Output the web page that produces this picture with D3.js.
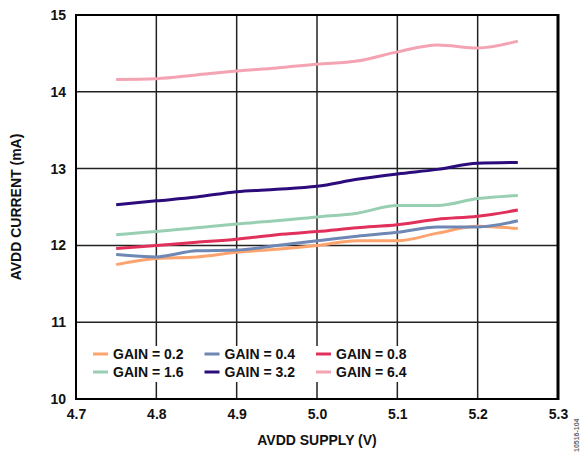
<!DOCTYPE html>
<html>
<head>
<meta charset="utf-8">
<script src="https://cdn.jsdelivr.net/npm/d3@7"></script>
<style>
  body { margin: 0; background: #fff; }
  text { font-family: "Liberation Sans", Arial, sans-serif; font-weight: bold; }
</style>
</head>
<body>
<div id="chart"></div>
<script>
const width = 582;
const height = 454;

// supply voltage (V)
const supply = [4.75, 4.80, 4.85, 4.90, 4.95, 5.00, 5.05, 5.10, 5.15, 5.20, 5.25];

// AVDD current (mA) per gain setting
const gain02 = [11.75, 11.83, 11.85, 11.91, 11.95, 12.00, 12.06, 12.06, 12.16, 12.25, 12.22];
const gain04 = [11.88, 11.85, 11.93, 11.94, 12.00, 12.06, 12.12, 12.17, 12.24, 12.24, 12.32];
const gain08 = [11.96, 12.00, 12.04, 12.08, 12.14, 12.18, 12.23, 12.27, 12.34, 12.38, 12.46];
const gain16 = [12.14, 12.18, 12.23, 12.28, 12.32, 12.37, 12.42, 12.52, 12.52, 12.61, 12.65];
const gain32 = [12.53, 12.58, 12.63, 12.70, 12.73, 12.77, 12.86, 12.93, 12.99, 13.07, 13.08];
const gain64 = [14.16, 14.17, 14.22, 14.27, 14.31, 14.36, 14.40, 14.52, 14.61, 14.57, 14.66];

const seriesNames = ["GAIN = 0.2", "GAIN = 0.4", "GAIN = 0.8", "GAIN = 1.6", "GAIN = 3.2", "GAIN = 6.4"];
const seriesColors = ["#fda46e", "#6e87b4", "#e1305a", "#98cfb2", "#2c0c7c", "#f4a3b2"];
const seriesValues = [gain02, gain04, gain08, gain16, gain32, gain64];

const xTicks = [4.7, 4.8, 4.9, 5.0, 5.1, 5.2, 5.3];
const yTicks = [10, 11, 12, 13, 14, 15];

const margin = {top: 15, right: 24, bottom: 55, left: 76};

const svg = d3.select("#chart").append("svg")
  .attr("width", width)
  .attr("height", height);

const x = d3.scaleLinear()
  .domain([4.7, 5.3])
  .range([margin.left, width - margin.right]);

const y = d3.scaleLinear()
  .domain([10, 15])
  .range([height - margin.bottom, margin.top]);

// grid
svg.append("g")
  .selectAll("line")
  .data(xTicks)
  .join("line")
    .attr("x1", d => x(d)).attr("x2", d => x(d))
    .attr("y1", y(10)).attr("y2", y(15))
    .attr("stroke", "#222")
    .attr("stroke-width", 1.5);

svg.append("g")
  .selectAll("line")
  .data(yTicks)
  .join("line")
    .attr("x1", x(4.7)).attr("x2", x(5.3))
    .attr("y1", d => y(d)).attr("y2", d => y(d))
    .attr("stroke", "#222")
    .attr("stroke-width", 1.5);

// frame
svg.append("rect")
  .attr("x", x(4.7))
  .attr("y", y(15))
  .attr("width", x(5.3) - x(4.7))
  .attr("height", y(10) - y(15))
  .attr("fill", "none")
  .attr("stroke", "#000")
  .attr("stroke-width", 2);

svg.append("line")
  .attr("x1", x(5.3)).attr("x2", x(5.3))
  .attr("y1", y(15) - 1).attr("y2", y(10) + 1)
  .attr("stroke", "#000")
  .attr("stroke-width", 3);

// axes labels
const xAxis = g => g
  .attr("transform", `translate(0,${y(10)})`)
  .call(d3.axisBottom(x).tickValues(xTicks).tickFormat(d3.format(".1f")).tickSize(0).tickPadding(10))
  .call(g => g.select(".domain").remove())
  .call(g => g.selectAll("text")
    .attr("font-size", 14)
    .attr("fill", "#111")
    .attr("font-family", "'Liberation Sans', Arial, sans-serif"));

const yAxis = g => g
  .attr("transform", `translate(${x(4.7)},0)`)
  .call(d3.axisLeft(y).tickValues(yTicks).tickFormat(d3.format("d")).tickSize(0).tickPadding(10))
  .call(g => g.select(".domain").remove())
  .call(g => g.selectAll("text")
    .attr("font-size", 14)
    .attr("fill", "#111")
    .attr("font-family", "'Liberation Sans', Arial, sans-serif"));

svg.append("g").call(xAxis);
svg.append("g").call(yAxis);

svg.append("text")
  .attr("x", (x(4.7) + x(5.3)) / 2)
  .attr("y", 445)
  .attr("text-anchor", "middle")
  .attr("font-size", 14)
  .attr("fill", "#111")
  .text("AVDD SUPPLY (V)");

svg.append("text")
  .attr("transform", `translate(21,${(y(10) + y(15)) / 2}) rotate(-90)`)
  .attr("text-anchor", "middle")
  .attr("font-size", 14)
  .attr("fill", "#111")
  .text("AVDD CURRENT (mA)");

// lines
const line = d3.line()
  .curve(d3.curveMonotoneX)
  .x((d, i) => x(supply[i]))
  .y(d => y(d));

svg.append("g")
  .selectAll("path")
  .data(seriesValues)
  .join("path")
    .attr("fill", "none")
    .attr("stroke", (d, i) => seriesColors[i])
    .attr("stroke-width", 3)
    .attr("stroke-linejoin", "round")
    .attr("d", line);

// legend (white box hides the grid behind it)
svg.append("rect")
  .attr("x", 88)
  .attr("y", 346)
  .attr("width", 332)
  .attr("height", 36)
  .attr("fill", "#fff");

const legend = svg.append("g")
  .selectAll("g")
  .data(seriesNames)
  .join("g")
    .attr("transform", (d, i) => `translate(${93 + (i % 3) * 111.5},${354 + Math.floor(i / 3) * 18})`);

legend.append("line")
  .attr("x1", 0).attr("x2", 15)
  .attr("stroke", (d, i) => seriesColors[i])
  .attr("stroke-width", 3);

legend.append("text")
  .attr("x", 20)
  .attr("dy", "0.35em")
  .attr("font-size", 14)
  .attr("fill", "#111")
  .text(d => d);

// figure id
svg.append("text")
  .attr("transform", "translate(579,452) rotate(-90)")
  .attr("font-size", 7)
  .attr("font-weight", "normal")
  .attr("fill", "#666")
  .text("10516-104");
</script>
</body>
</html>
